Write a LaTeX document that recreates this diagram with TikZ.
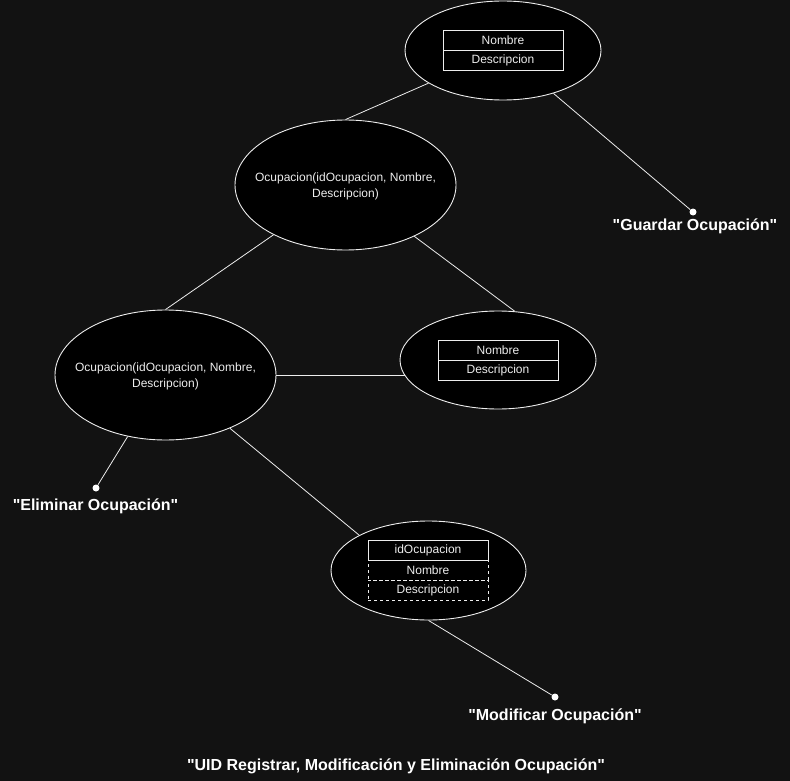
\documentclass[tikz,border=0pt]{standalone}
\usepackage{fontspec}
\setmainfont{Liberation Sans}
\newfontfamily\qfont{Liberation Sans}
\usetikzlibrary{shapes.geometric,backgrounds}
\definecolor{bg}{HTML}{121212}
\definecolor{ln}{HTML}{EDEDED}
\newcommand{\qq}{{\qfont\bfseries "}}
\begin{document}
\begin{tikzpicture}[x=1pt,y=-1pt,
 ell/.style={ellipse, draw=ln, fill=black, line width=0.9pt, inner sep=0pt},
 etext/.style={text=ln, font=\fontsize{12}{16}\selectfont, align=center, inner sep=0pt},
 row/.style={draw=ln, line width=0.9pt, minimum width=120pt, minimum height=20pt, inner sep=0pt, text=ln, font=\fontsize{12}{14}\selectfont},
 dashrow/.style={row, dash pattern=on 3pt off 3pt},
 wire/.style={draw=ln, line width=0.8pt},
 dotnode/.style={circle, fill=white, inner sep=0pt, minimum size=7pt},
 lbl/.style={text=white, font=\bfseries\fontsize{16}{19}\selectfont}]
\useasboundingbox (0,0) rectangle (790,781);
% ellipses
\node[ell, minimum width=196pt, minimum height=99pt] (e1) at (503,50.5) {};
\node[row] (r1a) at (503,40) {Nombre};
\node[row] (r1b) at (503,60) {Descripcion};
\node[ell, minimum width=221pt, minimum height=130pt] (e2) at (345.5,185) {};
\node[etext] (t2) at (345.5,186) {Ocupacion(idOcupacion, Nombre,\\Descripcion)};
\node[ell, minimum width=221pt, minimum height=130pt] (e3) at (165.5,375) {};
\node[etext] (t3) at (165.5,376) {Ocupacion(idOcupacion, Nombre,\\Descripcion)};
\node[ell, minimum width=196pt, minimum height=98pt] (e4) at (498,360) {};
\node[row] (r4a) at (498,350) {Nombre};
\node[row] (r4b) at (498,370) {Descripcion};
\node[ell, minimum width=195pt, minimum height=99pt] (e5) at (428.5,570.5) {};
\node[dashrow] (r5c) at (428,590) {Descripcion};
\node[dashrow] (r5b) at (428,570) {Nombre};
\node[row] (r5a) at (428,550) {idOcupacion};
% dots and labels
\node[dotnode] (d1) at (693,212) {};
\node[dotnode] (d2) at (96,488) {};
\node[dotnode] (d3) at (555,697) {};
\node[lbl] (l1) at (695,226.5) {\qq Guardar Ocupación\qq};
\node[lbl] (l2) at (95.5,506.5) {\qq Eliminar Ocupación\qq};
\node[lbl] (l3) at (555,716.5) {\qq Modificar Ocupación\qq};
\node[lbl] (title) at (396,766.5) {\qq UID Registrar, Modificación y Eliminación Ocupación\qq};
\begin{scope}[on background layer]
\fill[bg] (0,0) rectangle (790,781);
\draw[wire] (e1) -- (e2.north);
\draw[wire] (e1) -- (d1);
\draw[wire] (e2) -- (e3.north);
\draw[wire] (e2) -- (e4.71);
\draw[wire] (e3.east) -- (e3.east -| e4.center);
\draw[wire] (e3) -- (e5.153);
\draw[wire] (e3) -- (d2);
\draw[wire] (e5.south) -- (d3);
\end{scope}
\end{tikzpicture}
\end{document}
